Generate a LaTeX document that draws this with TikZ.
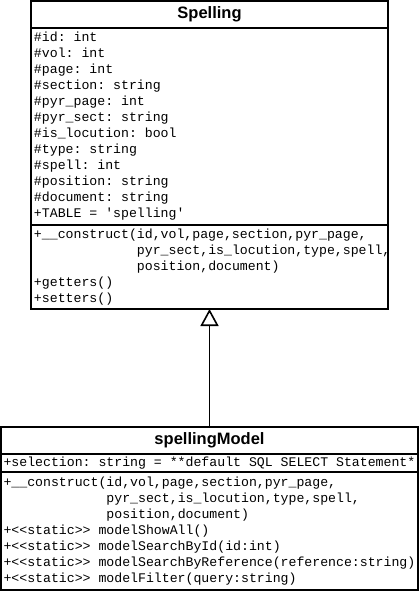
\documentclass[tikz,border=0pt]{standalone}
\usepackage{fontspec}
\setsansfont{Liberation Sans}
\setmonofont{Liberation Mono}
\usepackage{tikz}
\usetikzlibrary{arrows.meta, positioning}
\newcommand{\ctorpad}{\phantom{+\_\_construct(}}
\tikzset{
	classname/.style={
		rectangle,
		draw=black,
		line width=1.6pt,
		outer sep=0pt,
		inner sep=0pt,
		text centered,
		font=\sffamily\bfseries\fontsize{16.5}{19}\selectfont
	},
	members/.style={
		rectangle,
		draw=black,
		line width=1.6pt,
		outer sep=0pt,
		inner xsep=3pt,
		inner ysep=1pt,
		align=left,
		font=\ttfamily\fontsize{13.2}{16}\selectfont,
		execute at begin node={\spaceskip=0.6em\xspaceskip=0.6em\relax}
	},
	inherit/.style={line width=1.6pt, -{Triangle[open, length=17pt, width=18pt]}}
}

\begin{document}
\begin{tikzpicture}[x=1pt, y=1pt, node distance=0pt]
	\useasboundingbox (0,0) rectangle (420,-592);
	% class Spelling
	\node (spelling) [classname, minimum width=357pt, minimum height=27pt, anchor=north west] at (31,-1) {Spelling};
	\node (spellingAttr) [members, text width=351pt, minimum height=197pt, below=of spelling] {\#id: int\\
		\#vol: int\\
		\#page: int\\
		\#section: string\\
		\#pyr\_page: int\\
		\#pyr\_sect: string\\
		\#is\_locution: bool\\
		\#type: string\\
		\#spell: int\\
		\#position: string\\
		\#document: string\\
		+TABLE = 'spelling'};
	\node (spellingOps) [members, text width=351pt, minimum height=84pt, below=of spellingAttr] {+\_\_construct(id,vol,page,section,pyr\_page,\\
		\ctorpad pyr\_sect,is\_locution,type,spell,\\
		\ctorpad position,document)\\
		+getters()\\
		+setters()};
	
	% class spellingModel
	\node (model) [classname, minimum width=417pt, minimum height=27pt, anchor=north west] at (1,-427) {spellingModel};
	\node (modelAttr) [members, inner xsep=2.5pt, text width=412pt, minimum height=18pt, below=of model] {+selection: string = **default SQL SELECT Statement*};
	\node (modelOps) [members, inner xsep=2.5pt, text width=412pt, minimum height=118pt, below=of modelAttr] {+\_\_construct(id,vol,page,section,pyr\_page,\\
		\ctorpad pyr\_sect,is\_locution,type,spell,\\
		\ctorpad position,document)\\
		+<<static>> modelShowAll()\\
		+<<static>> modelSearchById(id:int)\\
		+<<static>> modelSearchByReference(reference:string)\\
		+<<static>> modelFilter(query:string)};
	
	\draw [inherit] (model.north) -- (spellingOps.south);
\end{tikzpicture}
\end{document}
